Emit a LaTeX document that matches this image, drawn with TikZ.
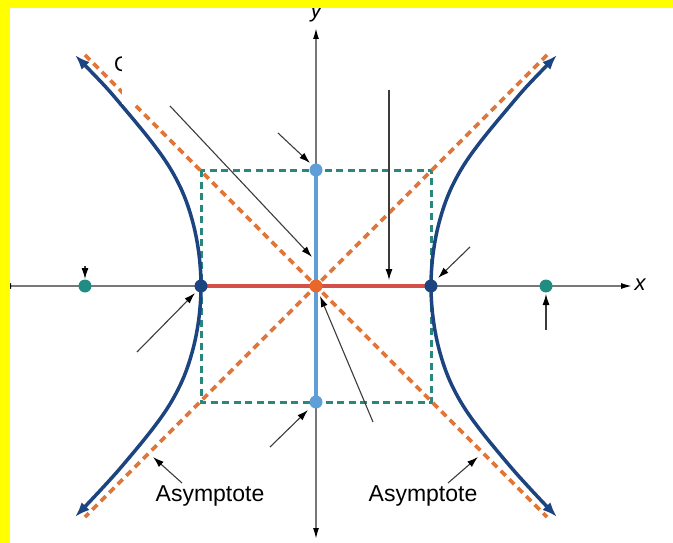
\documentclass[tikz,border=0pt]{standalone}
\usepackage{fontspec}
\setmainfont{Liberation Sans}
\usetikzlibrary{arrows.meta}
\definecolor{hypblue}{RGB}{28,68,128}
\definecolor{asyorange}{RGB}{224,118,58}
\definecolor{boxteal}{RGB}{42,135,125}
\definecolor{conjblue}{RGB}{95,158,215}
\definecolor{transred}{RGB}{212,80,72}
\definecolor{centerorange}{RGB}{232,104,44}
\definecolor{focusteal}{RGB}{32,140,130}
\definecolor{axisgray}{RGB}{120,120,120}
\definecolor{labelgray}{RGB}{60,60,60}
\definecolor{bandyellow}{RGB}{255,255,0}
\tikzset{
  axisline/.style={draw=axisgray, line width=1.4pt, arrows={Latex[length=11pt,width=6pt,color=black]-Latex[length=11pt,width=6pt,color=black]}},
  boxline/.style={draw=boxteal, line width=3pt, dash pattern=on 7pt off 4.5pt},
  asyline/.style={draw=asyorange, line width=3.8pt, dash pattern=on 7pt off 5pt},
  hypline/.style={draw=hypblue, line width=3.5pt, arrows={Latex[length=15pt,width=11pt]-Latex[length=15pt,width=11pt]}},
  dotnode/.style={circle, inner sep=0pt, minimum size=13pt},
  callout/.style={draw=labelgray, line width=1.1pt, -{Latex[length=11pt,width=7pt,color=black]}},
  lbl/.style={font=\fontsize{23}{27}\selectfont, inner sep=0pt},
  axlbl/.style={font=\fontsize{22}{26}\selectfont\itshape, inner sep=0pt}
}
\begin{document}
\begin{tikzpicture}[x=1pt,y=-1pt]
\useasboundingbox (0,0) rectangle (673,543);
\fill[white] (0,0) rectangle (673,543);
% axes
\coordinate (xl) at (0,286);
\coordinate (xr) at (632,286);
\coordinate (yt) at (316,28);
\coordinate (yb) at (316,539);
\draw[axisline] (xl) -- (xr);
\draw[axisline] (yb) -- (yt);
% key points
\coordinate (C) at (316,286);
\coordinate (R1) at (201,170);
\coordinate (R2) at (431,402);
% rectangle
\draw[boxline] (R1) rectangle (R2);
% asymptotes
\coordinate (A1) at (85,55);
\coordinate (A2) at (547,517);
\coordinate (A3) at (547,55);
\coordinate (A4) at (85,517);
\draw[asyline] (A1) -- (A2);
\draw[asyline] (A3) -- (A4);
% axes segments
\node[dotnode] (V1) at (201,286) {};
\node[dotnode] (V2) at (431,286) {};
\node[dotnode] (W1) at (316,170) {};
\node[dotnode] (W2) at (316,402) {};
\draw[transred, line width=3.8pt] (V1.center) -- (V2.center);
\draw[conjblue, line width=3.8pt] (W1.center) -- (W2.center);
% hyperbola
\draw[hypline] plot[smooth, tension=0.6] coordinates {(75,55) (123,107) (170,168) (193,223) (201,286) (193,349) (170,404) (123,465) (75,517)};
\draw[hypline] plot[smooth, tension=0.6] coordinates {(557,55) (509,107) (462,168) (439,223) (431,286) (439,349) (462,404) (509,465) (557,517)};
% dots
\node[dotnode, fill=hypblue] at (V1) {};
\node[dotnode, fill=hypblue] at (V2) {};
\node[dotnode, fill=conjblue] at (W1) {};
\node[dotnode, fill=conjblue] at (W2) {};
\node[dotnode, fill=centerorange] (O) at (C) {};
\node[dotnode, fill=focusteal] (F1) at (85,286) {};
\node[dotnode, fill=focusteal] (F2) at (546,286) {};
% callout arrows
\coordinate (c1s) at (170,106); \coordinate (c1e) at (312,257);
\coordinate (c2s) at (278,133); \coordinate (c2e) at (310,163);
\coordinate (c3s) at (389,90);  \coordinate (c3e) at (389,280);
\coordinate (c4s) at (470,247); \coordinate (c4e) at (438,278);
\coordinate (c5s) at (85,266);  \coordinate (c5e) at (85,279);
\coordinate (c6s) at (546,330); \coordinate (c6e) at (546,294);
\coordinate (c7s) at (137,352); \coordinate (c7e) at (195,293);
\coordinate (c8s) at (373,422); \coordinate (c8e) at (320,296);
\coordinate (c9s) at (270,447); \coordinate (c9e) at (308,410);
\coordinate (c10s) at (182,483); \coordinate (c10e) at (153,457);
\coordinate (c11s) at (448,483); \coordinate (c11e) at (478,457);
\foreach \i in {1,...,11} {\draw[callout] (c\i s) -- (c\i e);}
% partially hidden label
\node[lbl, anchor=west, font=\fontsize{21}{25}\selectfont] (Cfrag) at (114,64) {C};
\fill[white] (122,38) rectangle (292,104);
% labels
\node[lbl] (asyL) at (210,496) {Asymptote};
\node[lbl] (asyR) at (423,496) {Asymptote};
\node[axlbl] (ylab) at (316,14) {y};
\node[axlbl] (xlab) at (640,285) {x};
% yellow frame
\fill[bandyellow] (0,0) rectangle (673,8);
\fill[bandyellow] (0,0) rectangle (10,543);
\end{tikzpicture}
\end{document}
